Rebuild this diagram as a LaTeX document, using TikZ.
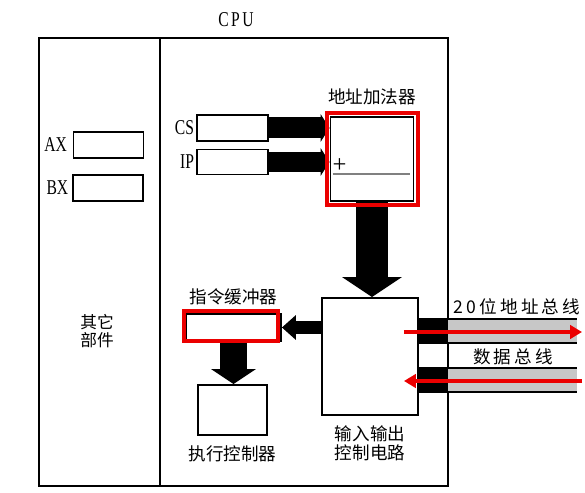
\documentclass[tikz,border=0pt]{standalone}
\usepackage{fontspec}
\setmainfont{Liberation Serif}
\newfontfamily\schmal[FakeStretch=0.74]{Liberation Serif}
\newfontfamily\schmalweit[FakeStretch=0.74,LetterSpace=12]{Liberation Serif}
\newfontfamily\cjk{Noto Sans CJK SC}
\newfontfamily\cjkweit[LetterSpace=18]{Noto Sans CJK SC}
\usepackage{tikz}
\usetikzlibrary{arrows.meta}
\usetikzlibrary{calc}
\definecolor{rahmenrot}{rgb}{0.92,0,0}
\definecolor{busgrau}{rgb}{0.78,0.78,0.78}

\begin{document}
\begin{tikzpicture}
     [
     x=0.02cm, y=-0.02cm,
     reg/.style = {draw, line width=1.1pt, inner sep=0pt, minimum width=1.4cm, minimum height=0.53cm},
     einheit/.style = {draw, line width=1.1pt, inner sep=0pt},
     rot/.style = {draw=rahmenrot, line width=2.3pt},
     zh/.style = {font=\cjk\fontsize{10}{10.8}\selectfont},
     lat/.style = {font=\schmal\fontsize{12}{13}\selectfont, inner sep=1pt},
     kpfeil/.style = {line width=0.42cm, -{Triangle[width=0.56cm,length=0.18cm,line width=0pt]}},
     gpfeil/.style = {line width=0.64cm, -{Triangle[width=1.2cm,length=0.4cm,line width=0pt]}},
     mpfeil/.style = {line width=0.26cm, -{Triangle[width=0.5cm,length=0.28cm,line width=0pt]}},
     dpfeil/.style = {line width=0.56cm, -{Triangle[width=0.9cm,length=0.3cm,line width=0pt]}},
     buspfeil/.style = {rahmenrot, line width=0.08cm, -{Triangle[width=0.27cm,length=0.24cm]}}
     ]

     \useasboundingbox (0,0) rectangle (585,493);

     % CPU rahmen
     \draw[line width=1.1pt] (39,38) rectangle (448,486) (160,38) -- (160,486);

    \draw (108.5,145) node[reg] (ax) {}
               (108,188) node[reg] (bx) {}
               (232.5,128) node[reg, minimum width=1.42cm, minimum height=0.52cm] (cs) {}
               (232.5,162) node[reg, minimum width=1.42cm, minimum height=0.5cm] (ip) {}
               (372,159) node[einheit, minimum width=1.66cm, minimum height=1.68cm] (adder) {}
               (233.5,327.5) node[einheit, minimum width=1.9cm, minimum height=0.54cm] (buf) {}
               (232.5,410) node[einheit, minimum width=1.38cm, minimum height=1cm] (exec) {}
               (370,356.5) node[einheit, minimum width=1.92cm, minimum height=2.34cm] (io) {}
     ;

     \path (236,20) node[lat, font=\schmalweit\fontsize{12}{13}\selectfont] (cpu) {CPU}
           (ax.west) node[lat, left=2pt] (axl) {AX}
           (bx.west) node[lat, left=1pt] (bxl) {BX}
           (cs.west) node[lat, left=0pt] (csl) {CS}
           (ip.west) node[lat, left=0pt] (ipl) {IP}
           (97,331) node[zh, font=\cjk\fontsize{9.5}{10.3}\selectfont, align=center] (sonst) {其它\\部件}
           (adder.north) node[zh, above=3pt] (adderl) {地址加法器}
           ($(adder.west)+(10,7)$) node[lat, font=\fontsize{14}{14}\selectfont] (plus) {+}
           (buf.north) node[zh, above=1pt] (bufl) {指令缓冲器}
           (exec.south) node[zh, below=2pt] (execl) {执行控制器}
           (io.south) node[zh, below=2pt, align=center] (iol) {输入输出\\控制电路}
     ;
     \draw[gray, line width=0.6pt] ($(adder.west)+(3,15)$) -- ($(adder.east)+(-4,15)$);

     % breite pfeile
     \draw[kpfeil] (cs.east) -- (cs.east -| adder.west);
     \draw[kpfeil] (ip.east) -- (ip.east -| adder.west);
     \draw[gpfeil] (adder.south) -- (adder.south |- io.north);
     \draw[mpfeil] (io.west |- buf.east) -- (buf.east);
     \draw[dpfeil] (buf.south) -- (buf.south |- exec.north);

     \draw[rot] ($(adder.north west)+(-3,-3)$) rectangle ($(adder.south east)+(4,3)$);
     \draw[rot] ($(buf.north west)+(-1,-2)$) rectangle ($(buf.south east)+(-4,-1)$);

     % busse
     \coordinate (ab-o) at (577,319);
     \coordinate (ab-u) at (577,343);
     \coordinate (db-o) at (577,368);
     \coordinate (db-u) at (577,392);
     \coordinate (ab) at (582,332);
     \coordinate (db) at (582,381);

     \fill[busgrau] (448,319) rectangle (ab-u);
     \fill[busgrau] (448,368) rectangle (db-u);
     \fill (io.east |- ab-o) rectangle (448,343);
     \fill (io.east |- db-o) rectangle (448,392);
     \draw[line width=1.1pt] (io.east |- ab-o) -- (ab-o) (io.east |- ab-u) -- (ab-u)
          (io.east |- db-o) -- (db-o) (io.east |- db-u) -- (db-u);

     \draw[buspfeil] ($(io.east |- ab)+(-15,0)$) -- (ab);
     \draw[buspfeil] (db) -- ($(io.east |- db)+(-15,0)$);

     \path (517,307) node[font=\cjkweit\fontsize{10}{12}\selectfont] (abl) {20位地址总线}
           (513,357) node[font=\cjkweit\fontsize{10}{12}\selectfont] (dbl) {数据总线};
  \end{tikzpicture}
\end{document}
